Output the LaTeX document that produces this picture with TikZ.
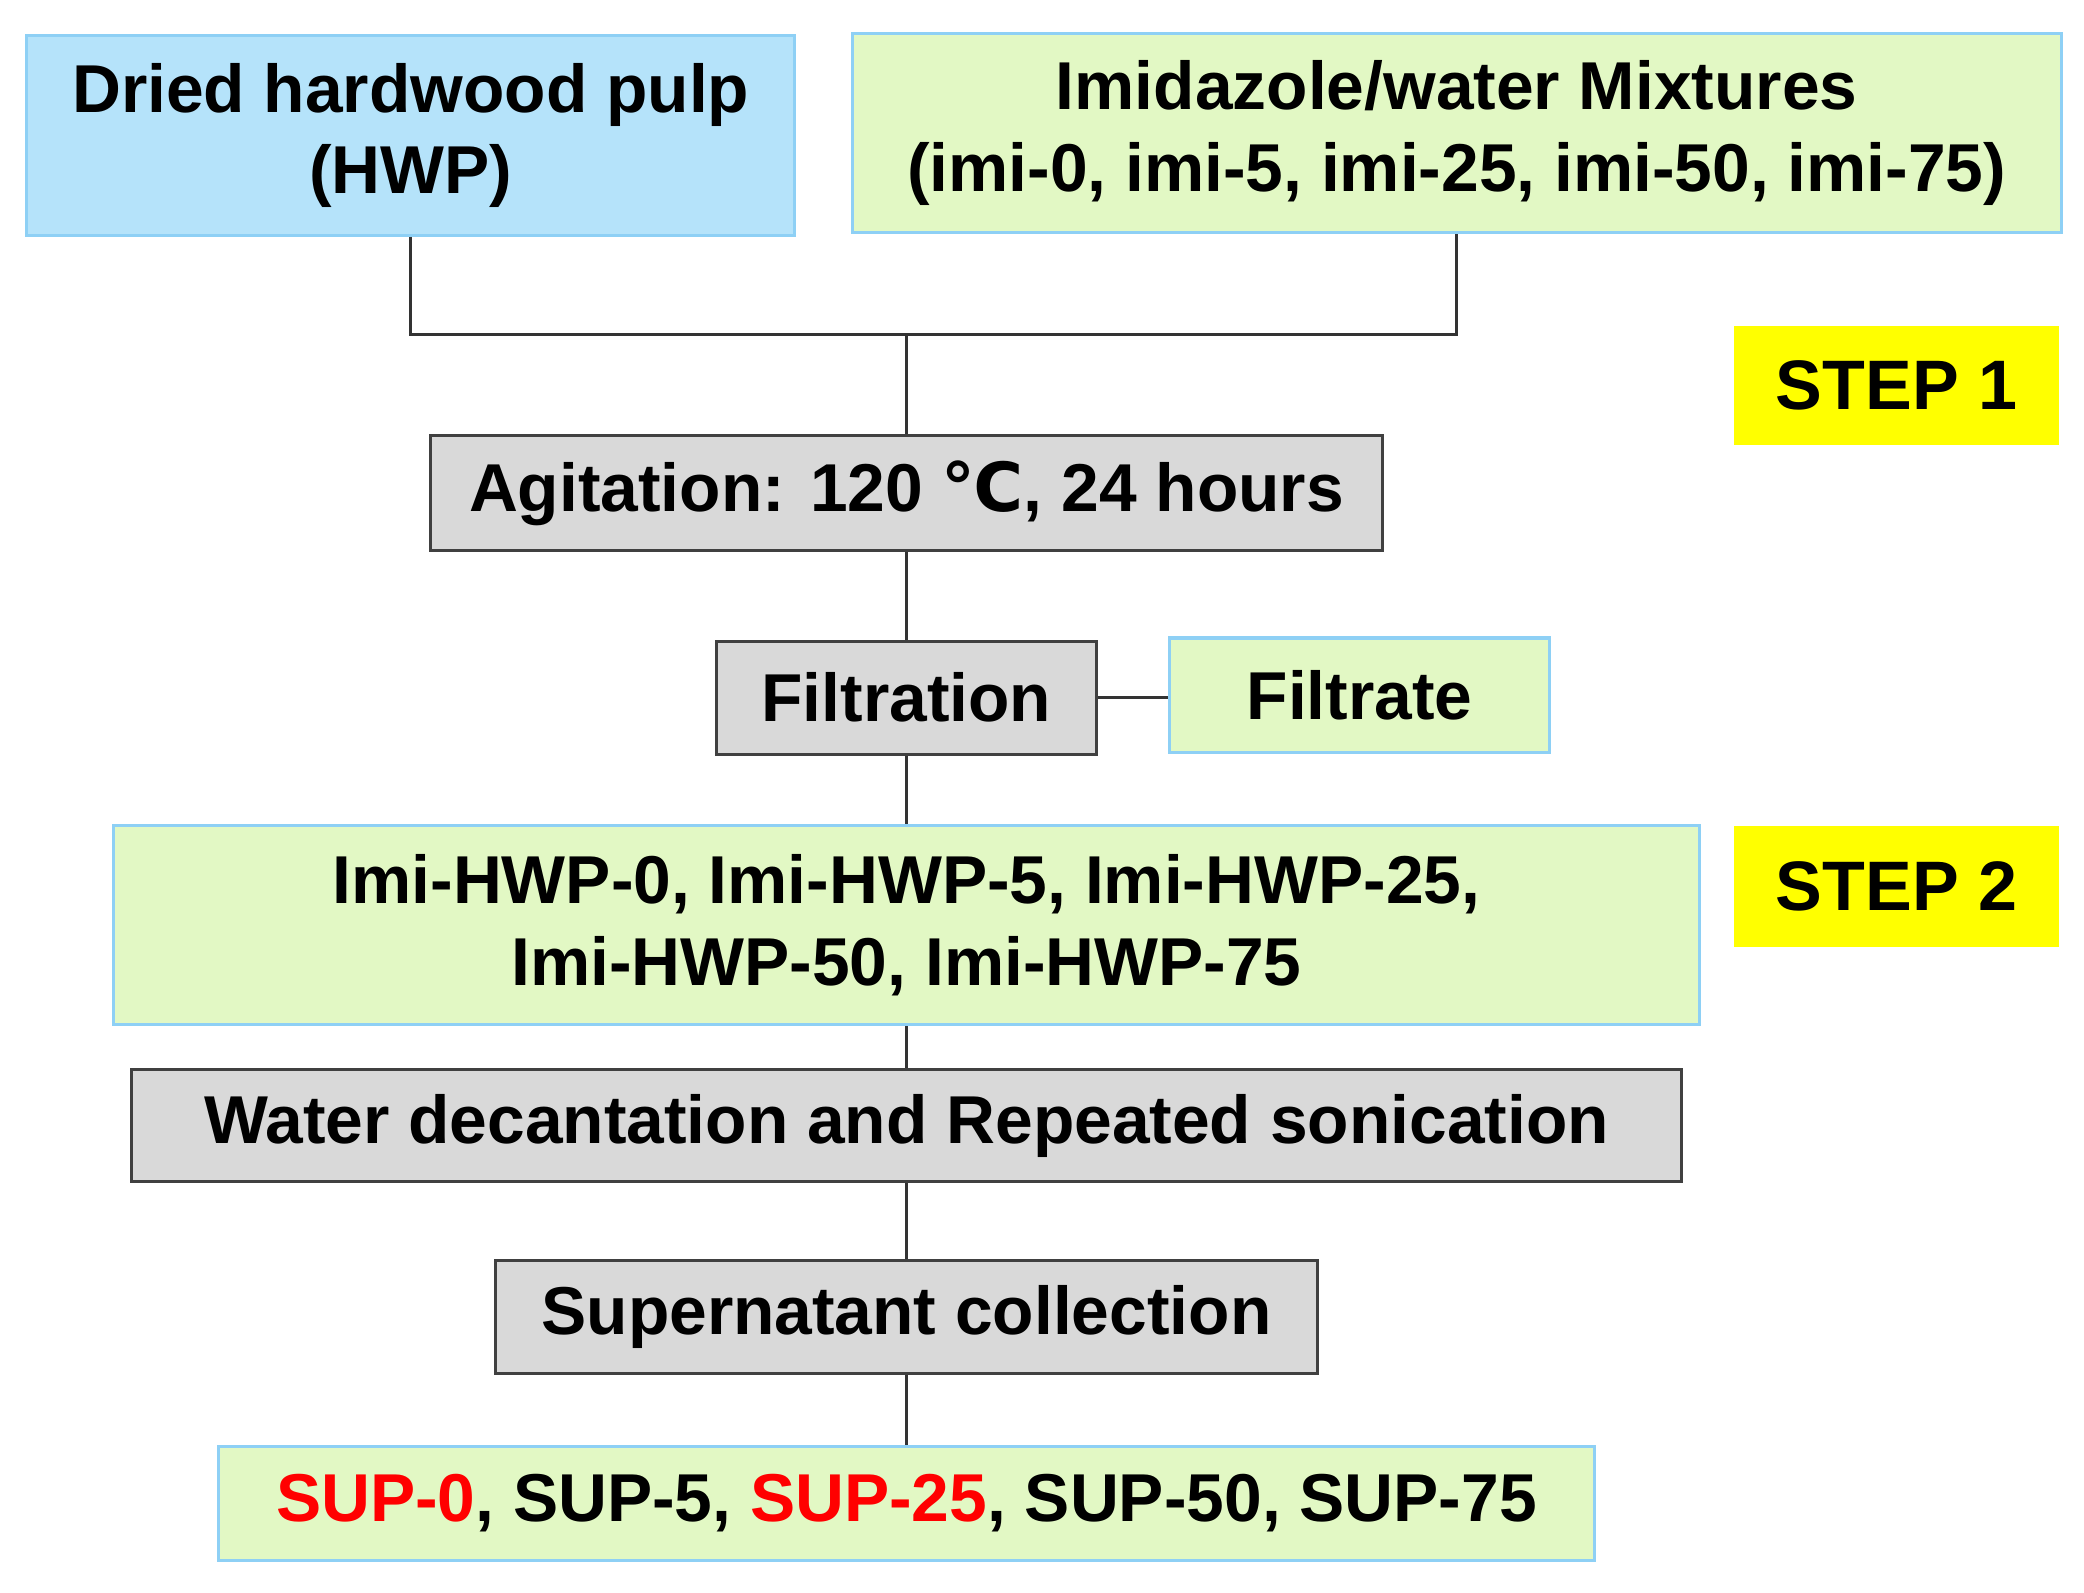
\documentclass[tikz,border=0pt]{standalone}
\usepackage{fontspec}
\setmainfont{Liberation Sans}
\newfontfamily\djv{DejaVu Sans}
\definecolor{bluef}{HTML}{B5E3FA}
\definecolor{blued}{HTML}{8ED0F5}
\definecolor{greenf}{HTML}{E2F8C4}
\definecolor{grayf}{HTML}{D9D9D9}
\definecolor{yel}{HTML}{FFFF00}
\definecolor{redt}{HTML}{FF0000}
\begin{document}
\begin{tikzpicture}[x=0.02cm,y=-0.02cm,
  base/.style={font=\fontsize{29}{35}\selectfont\bfseries,align=center,inner sep=0,line width=1.3pt},
  bluebox/.style={base,fill=bluef,draw=blued},
  greenbox/.style={base,fill=greenf,draw=blued},
  graybox/.style={base,fill=grayf,draw=black!75},
  stepbox/.style={base,fill=yel,font=\fontsize{30}{36}\selectfont\bfseries},
  conn/.style={line width=1.3pt,draw=black!80}]
\useasboundingbox (0,0) rectangle (1568,1198);
\node[bluebox,minimum width=11.56cm,minimum height=3cm] (hwp) at (309,102) {Dried hardwood pulp\\(HWP)};
\node[greenbox,minimum width=18.2cm,minimum height=3cm] (imi) at (1096,100) {Imidazole/water Mixtures\\(imi-0, imi-5, imi-25, imi-50, imi-75)};
\node[stepbox,minimum width=4.9cm,minimum height=1.8cm] (s1) at (1427,290) {STEP 1};
\node[graybox,minimum width=14.34cm,minimum height=1.72cm] (agi) at (682,371) {Agitation: 120 {\djv ℃}, 24 hours};
\node[graybox,minimum width=5.72cm,minimum height=1.7cm] (fil) at (682,525) {Filtration};
\node[greenbox,minimum width=5.72cm,minimum height=1.72cm] (fte) at (1023,523) {Filtrate};
\node[greenbox,minimum width=23.86cm,minimum height=3cm] (ih) at (682,696) {Imi-HWP-0, Imi-HWP-5, Imi-HWP-25,\\Imi-HWP-50, Imi-HWP-75};
\node[stepbox,minimum width=4.9cm,minimum height=1.82cm] (s2) at (1427,667) {STEP 2};
\node[graybox,minimum width=23.32cm,minimum height=1.68cm] (wat) at (682,847) {Water decantation and Repeated sonication};
\node[graybox,minimum width=12.38cm,minimum height=1.7cm] (sup) at (682,991) {Supernatant collection};
\node[greenbox,minimum width=20.72cm,minimum height=1.72cm] (res) at (682,1131) {\textcolor{redt}{SUP-0}, SUP-5, \textcolor{redt}{SUP-25}, SUP-50, SUP-75};
\coordinate (j) at (682,252);
\draw[conn] (hwp.south) |- (j) -| (imi.south);
\draw[conn] (j) -- (agi.north);
\draw[conn] (agi.south) -- (fil.north);
\draw[conn] (fil.east) -- (fil.east -| fte.west);
\draw[conn] (fil.south) -- (ih.north);
\draw[conn] (ih.south) -- (wat.north);
\draw[conn] (wat.south) -- (sup.north);
\draw[conn] (sup.south) -- (res.north);
\end{tikzpicture}
\end{document}
